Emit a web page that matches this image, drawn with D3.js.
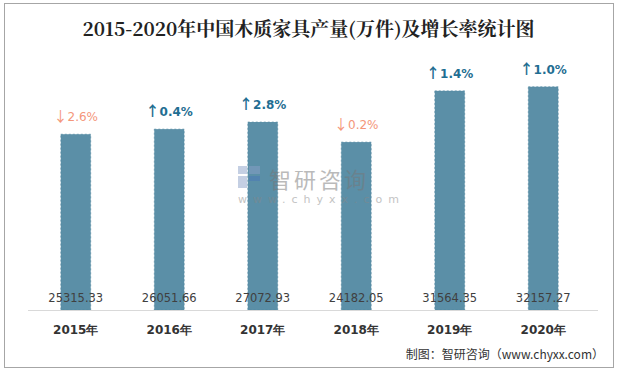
<!DOCTYPE html>
<html>
<head>
<meta charset="utf-8">
<script src="https://cdn.jsdelivr.net/npm/d3@7"></script>
<style>
  body { margin: 0; background: #fff; }
  svg { display: block; }
</style>
</head>
<body>
<div id="chart"></div>
<script>
// data
const years = ["2015年", "2016年", "2017年", "2018年", "2019年", "2020年"];
const output = [25315.33, 26051.66, 27072.93, 24182.05, 31564.35, 32157.27];
const growth = [-2.6, 0.4, 2.8, -0.2, 1.4, 1.0];

const W = 617, H = 371;
const margin = { top: 67, right: 27, bottom: 61, left: 29 };

const svg = d3.select("#chart").append("svg")
    .attr("width", W)
    .attr("height", H);

// outer frame
svg.append("rect")
    .attr("x", 4.5).attr("y", 3.5)
    .attr("width", 609).attr("height", 364)
    .attr("fill", "none")
    .attr("stroke", "#a6a6a6")
    .attr("stroke-width", 1);

svg.append("text")
    .attr("x", W / 2)
    .attr("y", 36)
    .attr("text-anchor", "middle")
    .style("font-family", "'Noto Serif CJK SC', 'DejaVu Serif', 'Liberation Serif', serif")
    .style("font-size", "19px")
    .style("font-weight", "bold")
    .style("fill", "#222")
    .text("2015-2020年中国木质家具产量(万件)及增长率统计图");

const x = d3.scaleBand()
    .domain(years)
    .range([margin.left, W - margin.right])
    .paddingInner(0.68)
    .paddingOuter(0.34);

const y = d3.scaleLinear()
    .domain([0, 35000])
    .range([H - margin.bottom, margin.top]);

const g = svg.append("g");

g.selectAll(".bar")
    .data(output)
    .enter().append("rect")
    .attr("class", "bar")
    .attr("x", (d, i) => x(years[i]))
    .attr("width", x.bandwidth())
    .attr("y", d => y(d))
    .attr("height", d => y(0) - y(d))
    .attr("fill", "#5b8fa7")
    .attr("stroke", "#4f86a0")
    .attr("stroke-dasharray", "2 2")
    .attr("stroke-width", 0.6);

// watermark
const wm = svg.append("g").attr("opacity", 0.5);
wm.append("rect").attr("x", 238).attr("y", 166).attr("width", 9).attr("height", 8).attr("fill", "#8aa0c8");
wm.append("rect").attr("x", 249).attr("y", 166).attr("width", 11).attr("height", 8).attr("fill", "#8aa0c8");
wm.append("rect").attr("x", 238).attr("y", 176).attr("width", 9).attr("height", 12).attr("fill", "#8aa0c8");
wm.append("rect").attr("x", 249).attr("y", 176).attr("width", 11).attr("height", 5).attr("fill", "#4a78b8");
wm.append("text")
    .attr("x", 269).attr("y", 188)
    .style("font-family", "'Noto Sans CJK SC', sans-serif")
    .style("font-size", "22px")
    .style("fill", "#777")
    .style("letter-spacing", "3px")
    .text("智研咨询");
wm.append("text")
    .attr("x", 238).attr("y", 203)
    .style("font-family", "'DejaVu Sans', sans-serif")
    .style("font-size", "11px")
    .style("fill", "#888")
    .style("letter-spacing", "6px")
    .text("www.chyxx.com");

// baseline
svg.append("line")
    .attr("x1", 28).attr("x2", 598)
    .attr("y1", y(0) + 0.5).attr("y2", y(0) + 0.5)
    .attr("stroke", "#d9d9d9");

// value labels at bottom of bars
g.selectAll(".val")
    .data(output)
    .enter().append("text")
    .attr("class", "val")
    .attr("x", (d, i) => x(years[i]) + x.bandwidth() / 2)
    .attr("y", y(0) - 8)
    .attr("text-anchor", "middle")
    .style("font-family", "'DejaVu Sans', sans-serif")
    .style("font-size", "11.5px")
    .style("fill", "#404040")
    .text(d => d.toFixed(2));

// growth labels
const pct = g.selectAll(".pct")
    .data(growth)
    .enter().append("text")
    .attr("class", "pct")
    .attr("x", (d, i) => x(years[i]) + x.bandwidth() / 2)
    .attr("y", (d, i) => y(output[i]) - 13)
    .attr("text-anchor", "middle")
    .style("font-size", "12px")
    .style("font-weight", d => d < 0 ? "normal" : "bold")
    .style("fill", d => d < 0 ? "#f4967a" : "#1f6e92");
pct.append("tspan")
    .style("font-family", "'Noto Sans CJK SC', sans-serif")
    .style("font-size", "14px")
    .text(d => d < 0 ? "↓" : "↑");
pct.append("tspan")
    .style("font-family", "'DejaVu Sans', sans-serif")
    .text(d => Math.abs(d).toFixed(1) + "%");

// x axis labels
const xAxis = svg.append("g")
    .attr("transform", `translate(0,${y(0)})`)
    .call(d3.axisBottom(x).tickSize(0).tickPadding(15));
xAxis.select(".domain").remove();
xAxis.selectAll("text")
    .style("font-family", "'DejaVu Sans', sans-serif")
    .style("font-size", "12px")
    .style("font-weight", "bold")
    .style("fill", "#333");

svg.append("text")
    .attr("x", 604)
    .attr("y", 359)
    .attr("text-anchor", "end")
    .style("font-family", "'Noto Sans CJK SC', sans-serif")
    .style("font-size", "12px")
    .style("fill", "#333")
    .text("制图：智研咨询（www.chyxx.com）");
</script>
</body>
</html>
